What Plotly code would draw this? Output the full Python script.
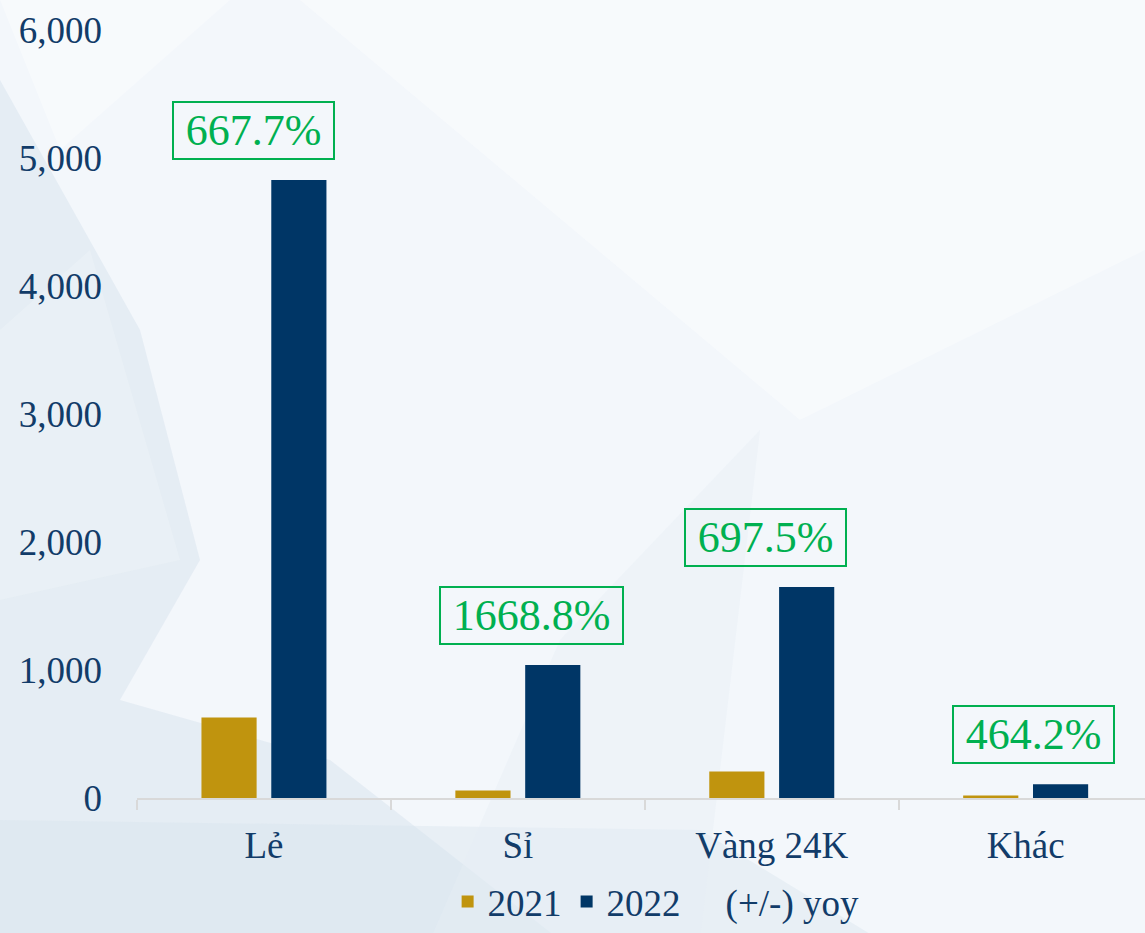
import plotly.graph_objects as go

categories = ["Lẻ", "Sỉ", "Vàng 24K", "Khác"]
values_2021 = [629, 59, 207, 19]
values_2022 = [4828, 1039, 1648, 107]
yoy_pct = [667.7, 1668.8, 697.5, 464.2]
y_ticks = [0, 1000, 2000, 3000, 4000, 5000, 6000]

GOLD = "#c0940e"
NAVY = "#003666"
GREEN = "#00b050"
TEXT = "#123c69"
BG = "#f3f7fb"
FONT = "Liberation Serif"

W, H = 1145, 933
ML, MR, MT, MB = 137, 0, 30, 135
AXIS_Y = H - MB
PW, PH = W - ML - MR, AXIS_Y - MT


def px(x, y):
    return (x - ML) / PW, (AXIS_Y - y) / PH


def poly(points, color, opacity):
    pts = [px(x, y) for x, y in points]
    path = "M " + " L ".join(f"{a:.4f},{b:.4f}" for a, b in pts) + " Z"
    return dict(type="path", path=path, xref="paper", yref="paper",
                fillcolor=color, opacity=opacity, line=dict(width=0), layer="below")


fig = go.Figure()
fig.add_trace(go.Bar(name="2021", x=categories, y=values_2021, marker_color=GOLD,
                     marker_line_width=0))
fig.add_trace(go.Bar(name="2022", x=categories, y=values_2022, marker_color=NAVY,
                     marker_line_width=0))
fig.add_trace(go.Scatter(name="(+/-) yoy", x=categories, y=[None] * len(categories),
                         mode="lines", line=dict(color="rgba(0,0,0,0)", width=0)))

label_nudge = [-10, 14, -6, 8]
annotations = []
for cat, v, p, dx in zip(categories, values_2022, yoy_pct, label_nudge):
    annotations.append(dict(
        x=cat, y=v, xref="x", yref="y", yanchor="bottom", yshift=20, xshift=dx,
        text="\u2009" + f"{p:.1f}%" + "\u2009", showarrow=False,
        font=dict(family=FONT, size=44, color=GREEN),
        bordercolor=GREEN, borderwidth=2, borderpad=3,
    ))

shapes = [
    poly([(0, 80), (140, 330), (200, 560), (120, 700), (330, 760), (560, 940), (0, 940)], "#dce6f0", 0.6),
    poly([(0, 820), (700, 830), (880, 940), (0, 940)], "#d8e3ee", 0.4),
    poly([(0, 0), (230, 0), (60, 150)], "#ffffff", 0.35),
    poly([(560, 640), (760, 430), (700, 940), (430, 940)], "#e6edf4", 0.4),
    poly([(0, 330), (90, 250), (180, 560), (0, 600)], "#eef3f8", 0.5),
    poly([(300, 0), (1145, 0), (1145, 250), (800, 420)], "#fafcfe", 0.6),
]

fig.update_layout(
    width=W, height=H, autosize=False,
    margin=dict(l=ML, r=MR, t=MT, b=MB, pad=0, autoexpand=False),
    paper_bgcolor=BG,
    plot_bgcolor="rgba(0,0,0,0)",
    barmode="group", bargap=0.45, bargroupgap=0.21,
    font=dict(family=FONT, size=37, color=TEXT),
    showlegend=True,
    legend=dict(orientation="h", x=0.515, xanchor="center", yref="container", y=0,
                yanchor="bottom",
                font=dict(family=FONT, size=37, color=TEXT), bgcolor="rgba(0,0,0,0)",
                itemwidth=30, traceorder="normal"),
    annotations=annotations,
    shapes=shapes,
    xaxis=dict(type="category", range=[-0.5, 3.47], showgrid=False,
               showline=True, linecolor="#d9d9d9", linewidth=2,
               ticks="outside", tickson="boundaries", ticklen=10, tickwidth=2,
               tickcolor="#d9d9d9", ticklabelstandoff=14,
               tickfont=dict(family=FONT, size=37, color=TEXT)),
    yaxis=dict(range=[0, 6000], tickvals=y_ticks, tickformat=",d", showgrid=False,
               zeroline=False, showline=False, ticks="", ticklabelstandoff=34,
               tickfont=dict(family=FONT, size=37, color=TEXT)),
)

fig.write_html("out.html",
               config={"displayModeBar": False, "responsive": False},
               post_script="document.body.style.margin='0';document.body.style.padding='0';"
                           "document.body.style.overflow='hidden';"
                           f"document.body.style.background='{BG}';")
